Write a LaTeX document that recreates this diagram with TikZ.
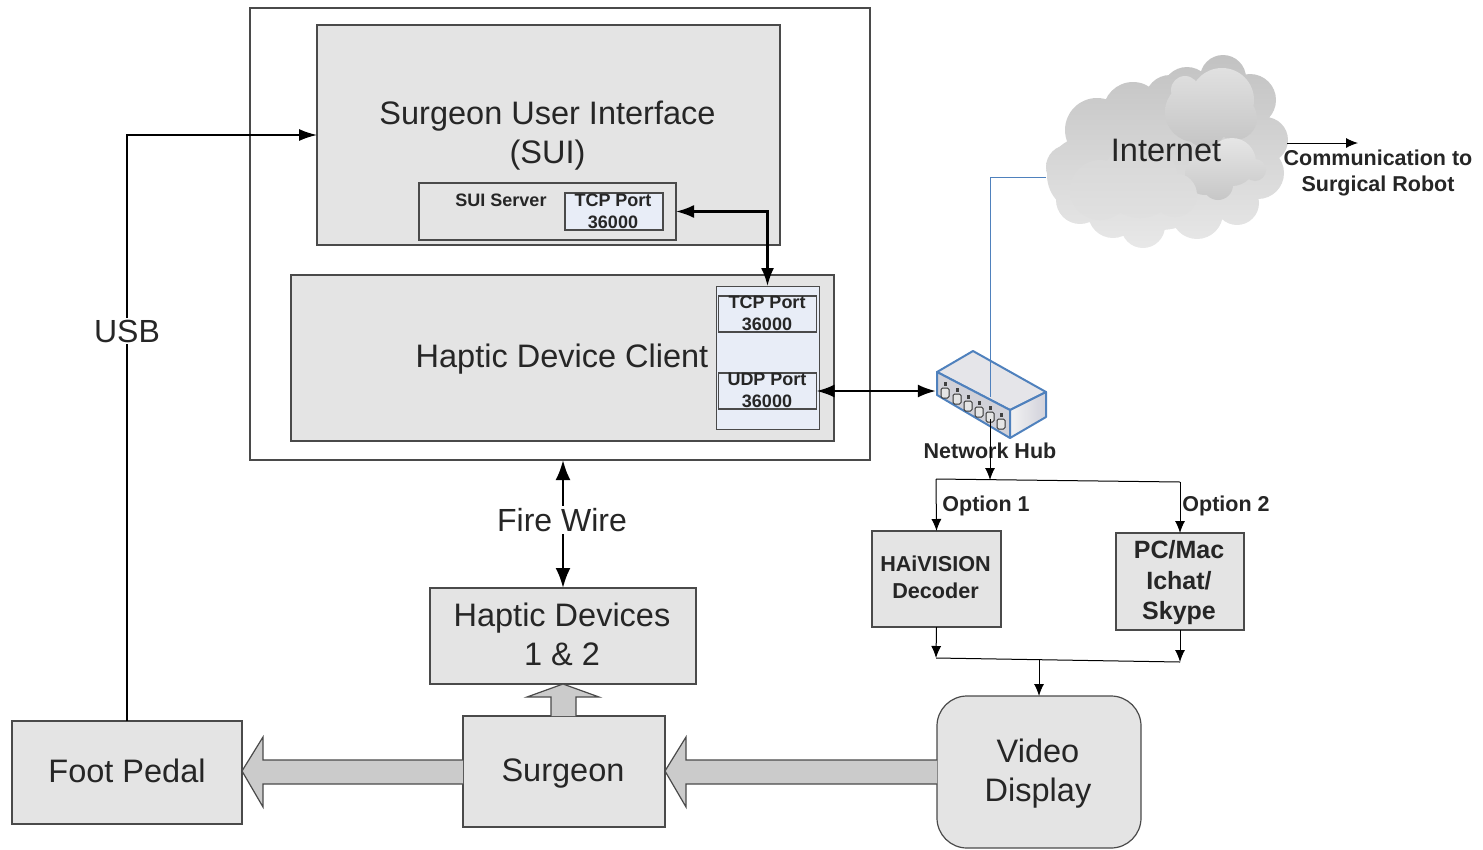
\documentclass[tikz,border=0pt]{standalone}
\usepackage{fontspec}
\setmainfont{Liberation Sans}
\usetikzlibrary{arrows.meta,calc}
\definecolor{boxfill}{HTML}{E4E4E4}
\definecolor{portfill}{HTML}{E8EDF7}
\definecolor{boxline}{HTML}{4A4A4A}
\definecolor{bigfill}{HTML}{CBCBCB}
\definecolor{hubblue}{HTML}{4F81BD}
\tikzset{
  box/.style={draw=boxline,line width=1.2pt,fill=boxfill,inner sep=0pt,outer sep=0pt,align=center,font=\fontsize{32.5}{39}\selectfont,text=black!85},
  portbox/.style={box,fill=portfill},
  porttext/.style={inner sep=0pt,align=center,text=black!85,font=\bfseries\fontsize{18}{21.5}\selectfont},
  bigtext/.style={inner sep=0pt,align=center,text=black!85,font=\fontsize{32.5}{39}\selectfont},
  decbox/.style={box,fill=boxfill,font=\bfseries\fontsize{21.6}{27}\selectfont},
  conn/.style={draw=black,line width=1pt,-{Latex[length=12pt,width=10pt]}},
  thickconn/.style={draw=black,line width=2.2pt,{Latex[length=18pt,width=13pt]}-{Latex[length=18pt,width=13pt]}},
  bigarrow/.style={draw=boxline,line width=1.2pt,fill=bigfill,line join=miter},
  lbl/.style={inner sep=0pt,align=center,text=black!85,font=\bfseries\fontsize{21.5}{26}\selectfont},
  biglbl/.style={inner sep=2pt,fill=white,text=black!85,font=\fontsize{32}{38}\selectfont},
}
\begin{document}
\begin{tikzpicture}[x=1pt,y=-1pt]
\useasboundingbox (0,0) rectangle (1483,849);
% containers
\node[box,fill=white,minimum width=620,minimum height=452] (outer) at (560,234) {};
\node[box,minimum width=463,minimum height=220] (sui) at (548.5,135) {};
\node[bigtext] (suilabel) at (547.5,136) {Surgeon User Interface\\(SUI)};
\node[box,minimum width=257,minimum height=57] (srv) at (547.5,211.5) {};
\node[porttext] (srvlabel) at (501,200) {SUI Server};
\node[portbox,minimum width=98,minimum height=37] (p1) at (614,211.5) {};
\node[porttext] (p1t) at (613,211.5) {TCP Port\\36000};
\node[box,minimum width=543,minimum height=166] (hdc) at (562.5,358) {};
\node[bigtext] (hdclabel) at (562,359) {Haptic Device Client};
\node[box,fill=portfill,line width=1pt,minimum width=103,minimum height=143] (col) at (767.5,357.5) {};
\node[portbox,minimum width=98,minimum height=36] (p2) at (767.5,314) {};
\node[porttext] (p2t) at (767,313.5) {TCP Port\\36000};
\node[portbox,minimum width=98,minimum height=36] (udp) at (767.5,391) {};
\node[porttext] (udpt) at (767,390.5) {UDP Port\\36000};
% lower boxes
\node[box,minimum width=266,minimum height=96] (hap) at (563,636) {};
\node[bigtext] (haptext) at (562,634.5) {Haptic Devices\\1 \& 2};
\node[box,minimum width=230,minimum height=103] (foot) at (127,772.5) {};
\node[bigtext] (foottext) at (127,770.5) {Foot Pedal};
\node[box,minimum width=202,minimum height=111] (surg) at (564,771.5) {};
\node[bigtext] (surgtext) at (563,774) {Surgeon};
\node[box,minimum width=204,minimum height=152,rounded corners=30pt] (disp) at (1039,772) {};
\node[bigtext] (disptext) at (1038,774) {Video\\Display};
\node[decbox,minimum width=129,minimum height=96] (dec) at (936.5,579) {};
\node[lbl,font=\bfseries\fontsize{21.6}{27}\selectfont] (dectext) at (935.5,577) {HAiVISION\\Decoder};
\node[decbox,minimum width=128,minimum height=97] (pc) at (1180,581.5) {};
\node[lbl,font=\bfseries\fontsize{25}{30.5}\selectfont] (pctext) at (1179,583) {PC/Mac\\Ichat/\\Skype};
% big arrows
\draw[bigarrow] (surg.west |- 0,760) -- (263,760) -- (263,737) -- (foot.east |- 0,771) -- (263,807) -- (263,784) -- (surg.west |- 0,784);
\draw[bigarrow] (disp.west |- 0,760) -- (686,760) -- (686,737) -- (surg.east |- 0,771) -- (686,807) -- (686,784) -- (disp.west |- 0,784);
\draw[bigarrow] (551,716) -- (551,697) -- (527,697) -- (563,684) -- (599,697) -- (576,697) -- (576,716);
% cloud
\shade[top color=black!24,bottom color=black!9]
  (1085,175) circle (38) (1097,130) circle (32) (1133,112) circle (30) (1170,100) circle (25)
  (1187,92) circle (25) (1223,78) circle (23) (1250,100) circle (26) (1265,140) circle (23)
  (1258,173) circle (26) (1237,203) circle (22) (1197,213) circle (26) (1143,226) circle (22)
  (1113,213) circle (25) (1080,200) circle (24) (1068,167) circle (22) (1160,165) circle (65) (1205,150) circle (60);
\shade[top color=black!12,bottom color=black!23]
  (1195,112) circle (30) (1222,100) circle (32) (1235,118) circle (22) (1185,90) circle (14) (1205,125) circle (22);
\shade[top color=black!10,bottom color=black!22]
  (1205,175) circle (20) (1232,162) circle (24) (1218,185) circle (15) (1255,170) circle (11);
\shade[top color=black!16,bottom color=black!12]
  (1100,190) circle (30) (1140,180) circle (38) (1175,195) circle (22);
\node[inner sep=0pt,minimum width=242,minimum height=193] (cloud) at (1167,151.5) {};
\node[bigtext] (inet) at (1166,150) {Internet};
\coordinate (cloudport) at (1046,177);
\coordinate (commstart) at (1287,143);
\coordinate (commend) at (1358,143);
\node[lbl] (comm) at (1378,172.5) {Communication to\\Surgical Robot};
% hub
\node[inner sep=0pt,minimum width=110,minimum height=88] (hub) at (991,395) {};
\coordinate (hubport) at (990,419);
\coordinate (hubwire) at (990,397);
\begin{scope}[draw=hubblue,line width=2pt,line join=round]
\filldraw[fill=blue!15!black!10!white] (937,372) -- (973,351) -- (1046,392) -- (1010,410) -- cycle;
\shade[left color=black!5,right color=blue!20!black!18!white] (1010,410) -- (1046,392) -- (1046,417) -- (1010,438) -- cycle;
\draw (1010,410) -- (1046,392) -- (1046,417) -- (1010,438);
\filldraw[fill=blue!15!black!18!white] (937,372) -- (1010,410) -- (1010,438) -- (937,395) -- cycle;
\end{scope}
\draw[draw=hubblue,line width=1pt] (cloudport) -| (hubwire);
\foreach \px/\py in {945/393,957/399,968/406,979/412,990/417,1001/424}{
  \filldraw[fill=black!10,draw=black!80,line width=1pt,rounded corners=1.5pt] (\px-4,\py-5) rectangle (\px+4,\py+5);
  \fill[black!75] (\px-1.5,\py-11) rectangle (\px+1.5,\py-7);
}
\node[lbl] (hublabel) at (990,451) {Network Hub};
\coordinate (brA) at (936,479);
\coordinate (brB) at (1180,482);
\coordinate (brM) at (990,480);
\coordinate (mgA) at (936,658);
\coordinate (mgB) at (1180,662);
\coordinate (mgM) at (1039,660);
% connectors
\draw[conn,line width=1.6pt,-{Latex[length=18pt,width=12pt]}] (foot.north) |- (sui.west);
\node[biglbl] (usb) at (127,331) {USB};
\draw[thickconn] (srv.east) -| (col.north);
\draw[thickconn] (udp.east) -- (udp.east -| hub.west);
\draw[draw=black,line width=2.6pt,{Latex[length=20pt,width=15pt]}-{Latex[length=20pt,width=15pt]}] (outer.south -| hap.north) -- (hap.north);
\node[biglbl] (fire) at (562,520) {Fire Wire};
\draw[conn] (commstart) -- (commend);
\draw[conn] (hubport) -- (brM);
\draw[draw=black,line width=1pt] (brA) -- (brB);
\draw[conn] (brA) -- (dec.north);
\draw[conn] (brB) -- (pc.north);
\draw[conn] (dec.south) -- (mgA);
\draw[conn] (pc.south) -- (mgB);
\draw[draw=black,line width=1pt] (mgA) -- (mgB);
\draw[conn] (mgM) -- (disp.north);
\node[lbl] (opt1) at (986,505.5) {Option 1};
\node[lbl] (opt2) at (1226,505.5) {Option 2};
\end{tikzpicture}
\end{document}
